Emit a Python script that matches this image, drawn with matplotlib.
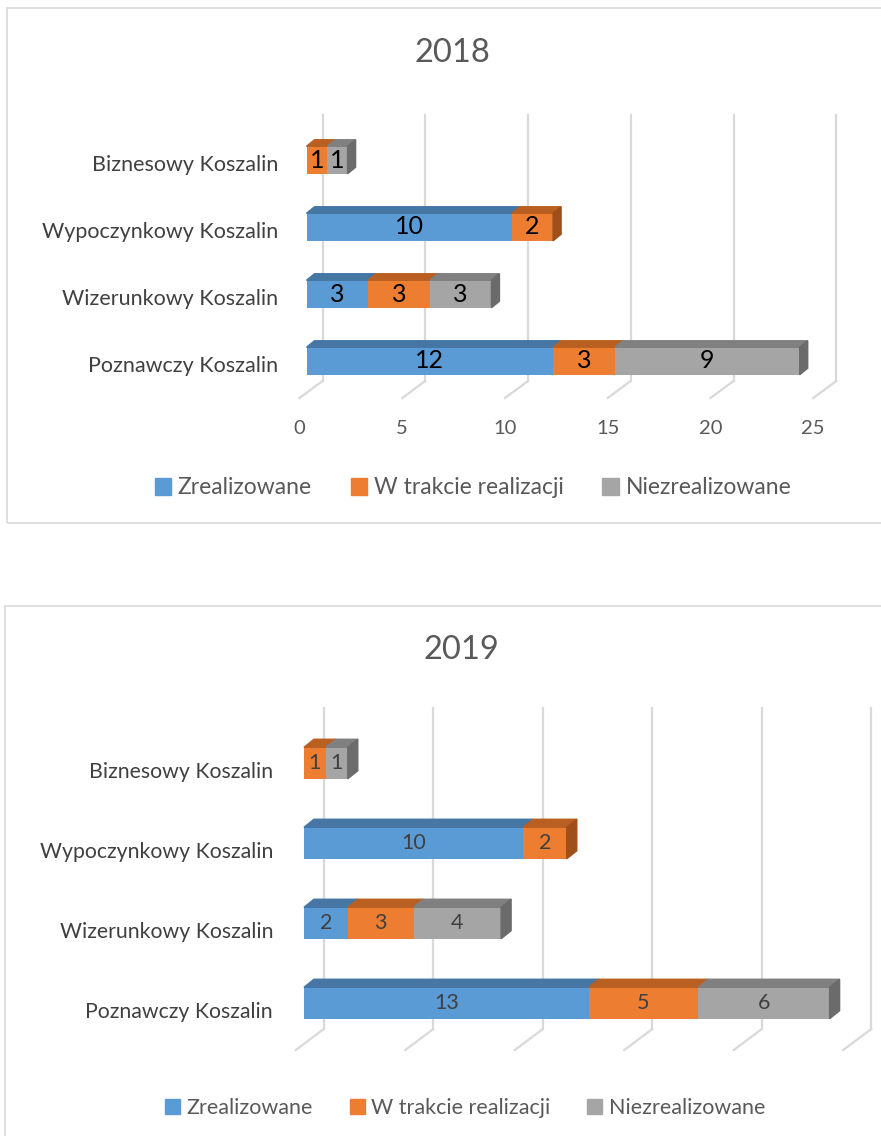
import matplotlib
matplotlib.use('Agg')
import matplotlib.pyplot as plt
from matplotlib.patches import Polygon, Rectangle, Patch

plt.rcParams['font.family'] = ['Lato', 'DejaVu Sans']

W, H = 881, 1136

# bottom -> top, as drawn
categories = ['Poznawczy Koszalin', 'Wizerunkowy Koszalin', 'Wypoczynkowy Koszalin', 'Biznesowy Koszalin']
series = ['Zrealizowane', 'W trakcie realizacji', 'Niezrealizowane']
ticks = [0, 5, 10, 15, 20, 25]

done_2018 = [12, 3, 10, 0]
progress_2018 = [3, 3, 2, 1]
notdone_2018 = [9, 3, 0, 1]

done_2019 = [13, 2, 10, 0]
progress_2019 = [5, 3, 2, 1]
notdone_2019 = [6, 4, 0, 1]

front = ['#5B9BD5', '#ED7D31', '#A5A5A5']
top = ['#4676A3', '#BA5F22', '#808080']
side = ['#3A6690', '#A04F1A', '#6B6B6B']
grid_col = '#D9D9D9'

# layout in pixels (per chart)
g2018 = dict(x0=306.5, sx=20.55, c0=361, cn=160, bh=27.5, dx=8, dy=6.5,
             wall=16, wall_top=115, wall_bot=381, fdx=-23, fdy=17, tick_y=428,
             lab_x=278, lab_dy=5, title='2018', title_xy=(452, 53),
             frame=(7, 8, 900, 523), leg_xy=(473, 488),
             lab_size=15.5, tick_size=14.5, val_size=18, val_col='black', leg_size=16.5, title_size=23.5)
g2019 = dict(x0=304, sx=21.9, c0=1003, cn=763, bh=31.5, dx=10, dy=8,
             wall=19.8, wall_top=708, wall_bot=1029, fdx=-28, fdy=21, tick_y=None,
             lab_x=273, lab_dy=9, title='2019', title_xy=(461, 650),
             frame=(5, 606, 900, 1160), leg_xy=(465, 1108),
             lab_size=15.3, tick_size=14.5, val_size=15.5, val_col='#404040', leg_size=15.5, title_size=23.5)


def draw_chart(fig, values, g):
    n = len(categories)
    sp = (g['c0'] - g['cn']) / (n - 1)
    ax = fig.add_axes([g['x0'] / W, 1 - (g['c0'] + sp / 2) / H,
                       ticks[-1] * g['sx'] / W, n * sp / H])
    ax.set_xlim(0, ticks[-1])
    ax.set_ylim(-0.5, n - 0.5)
    ax.axis('off')

    def dx(p):
        return p / g['sx']

    def ypx(p):
        return (g['c0'] - p) / sp

    # frame + title
    fx0, fy0, fx1, fy1 = g['frame']
    fig.add_artist(Rectangle((fx0 / W, 1 - fy1 / H), (fx1 - fx0) / W, (fy1 - fy0) / H,
                             transform=fig.transFigure, fill=False, ec=grid_col, lw=1.2))
    fig.text(g['title_xy'][0] / W, 1 - g['title_xy'][1] / H, g['title'],
             ha='center', va='center', fontsize=g['title_size'], color='#595959')

    # back wall gridlines and floor
    for t in ticks:
        x = t + dx(g['wall'])
        ax.plot([x, x], [ypx(g['wall_top']), ypx(g['wall_bot'])], color=grid_col, lw=1.6,
                clip_on=False, zorder=1)
        ax.plot([x, x + dx(g['fdx'])], [ypx(g['wall_bot']), ypx(g['wall_bot'] + g['fdy'])],
                color=grid_col, lw=1.6, clip_on=False, zorder=1)
        if g['tick_y'] is not None:
            ax.text(x + dx(g['fdx']), ypx(g['tick_y']), str(t), ha='center', va='center',
                    fontsize=g['tick_size'], color='#595959')

    bh = g['bh'] / sp
    ddx = dx(g['dx'])
    ddy = g['dy'] / sp
    for i, cat in enumerate(categories):
        ax.text(dx(g['lab_x'] - g['x0']), ypx(g['c0'] - i * sp + g['lab_dy']), cat,
                ha='right', va='center', fontsize=g['lab_size'], color='#404040')
        cum = 0
        last = None
        for s, vals in enumerate(values):
            w = vals[i]
            if w == 0:
                continue
            ax.barh(i, w, left=cum, height=bh, color=front[s], zorder=3, clip_on=False)
            yt = i + bh / 2
            ax.add_patch(Polygon([(cum, yt), (cum + w, yt), (cum + w + ddx, yt + ddy), (cum + ddx, yt + ddy)],
                                 closed=True, color=top[s], zorder=3, clip_on=False))
            ax.text(cum + w / 2, i, str(w), ha='center', va='center',
                    fontsize=g['val_size'], color=g['val_col'], zorder=5)
            cum += w
            last = s
        yb, yt = i - bh / 2, i + bh / 2
        ax.add_patch(Polygon([(cum, yb), (cum, yt), (cum + ddx, yt + ddy), (cum + ddx, yb + ddy)],
                             closed=True, color=side[last], zorder=3, clip_on=False))

    handles = [Patch(color=c) for c in front]
    fig.legend(handles, series, loc='center', ncol=3, frameon=False,
               bbox_to_anchor=(g['leg_xy'][0] / W, 1 - g['leg_xy'][1] / H),
               fontsize=g['leg_size'], labelcolor='#595959',
               handlelength=0.7, handleheight=0.7, handletextpad=0.3, columnspacing=1.7)
    return ax


fig = plt.figure(figsize=(W / 100, H / 100), dpi=100)
fig.patch.set_facecolor('white')
draw_chart(fig, [done_2018, progress_2018, notdone_2018], g2018)
draw_chart(fig, [done_2019, progress_2019, notdone_2019], g2019)
fig.savefig('out.png', dpi=100)
